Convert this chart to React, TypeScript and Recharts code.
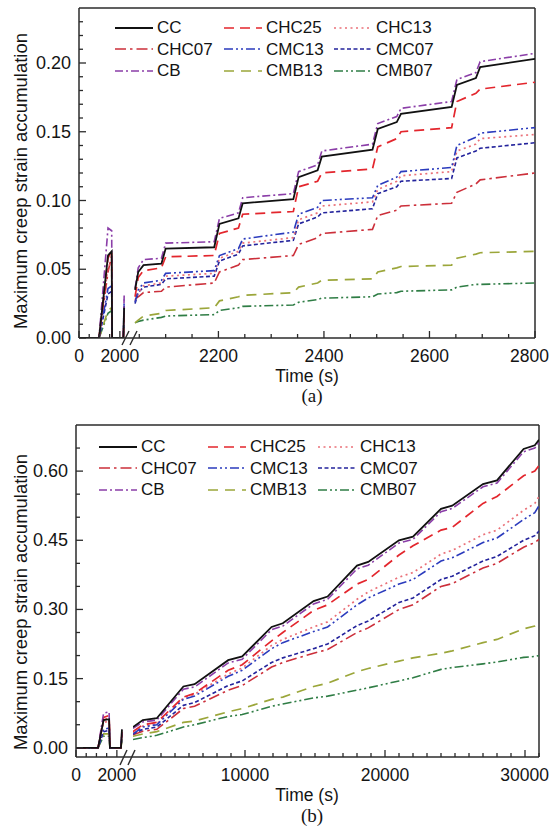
import React from 'react';
import { LineChart, Line, XAxis, YAxis, ReferenceLine, Legend, Label } from 'recharts';

const FONT = '"Liberation Sans", Arial, Helvetica, sans-serif';
const INK = '#141414';
const AXIS = '#2b2b2b';

// ---------- Panel (a) : left segment (0 - 2000 s) ----------
const A_TIME_L = [0, 980, 1420, 1600, 1620, 2170, 2210];
const A_CC_L = [0, 0, 0.06, 0.063, 0, 0, 0.022];
const A_CB_L = [0, 0, 0.08, 0.078, 0, 0, 0.031];
const A_CHC25_L = [0, 0, 0.058, 0.064, 0, 0, 0.018];
const A_CHC13_L = [0, 0, 0.052, 0.055, 0, 0, 0.02];
const A_CHC07_L = [0, 0, 0.048, 0.06, 0, 0, 0.02];
const A_CMC13_L = [0, 0, 0.036, 0.038, 0, 0, 0.028];
const A_CMC07_L = [0, 0, 0.032, 0.034, 0, 0, 0.025];
const A_CMB13_L = [0, 0, 0.02, 0.022, 0, 0, 0.008];
const A_CMB07_L = [0, 0, 0.018, 0.02, 0, 0, 0.008];

// ---------- Panel (a) : right segment ----------
const A_TIME_R = [2042, 2048, 2058, 2092, 2100, 2192, 2202, 2238, 2246, 2342, 2352, 2388, 2396, 2492, 2502, 2538, 2546, 2642, 2652, 2688, 2696, 2800];
const A_CC_R = [0.035, 0.048, 0.053, 0.054, 0.065, 0.066, 0.083, 0.087, 0.098, 0.101, 0.117, 0.122, 0.132, 0.137, 0.152, 0.157, 0.163, 0.168, 0.184, 0.189, 0.197, 0.203];
const A_CB_R = [0.036, 0.051, 0.057, 0.058, 0.069, 0.07, 0.087, 0.091, 0.102, 0.105, 0.121, 0.126, 0.136, 0.141, 0.156, 0.161, 0.167, 0.172, 0.188, 0.193, 0.201, 0.207];
const A_CHC25_R = [0.03, 0.044, 0.049, 0.051, 0.059, 0.06, 0.076, 0.08, 0.09, 0.092, 0.11, 0.114, 0.12, 0.123, 0.139, 0.145, 0.15, 0.153, 0.172, 0.178, 0.181, 0.186];
const A_CHC13_R = [0.027, 0.033, 0.038, 0.04, 0.045, 0.047, 0.058, 0.063, 0.069, 0.073, 0.086, 0.091, 0.096, 0.099, 0.108, 0.114, 0.118, 0.121, 0.136, 0.141, 0.145, 0.148];
const A_CHC07_R = [0.028, 0.03, 0.033, 0.034, 0.037, 0.04, 0.048, 0.053, 0.057, 0.06, 0.068, 0.073, 0.076, 0.079, 0.089, 0.093, 0.096, 0.098, 0.106, 0.112, 0.115, 0.12];
const A_CMC13_R = [0.026, 0.035, 0.04, 0.042, 0.047, 0.049, 0.06, 0.065, 0.072, 0.077, 0.09, 0.095, 0.1, 0.102, 0.111, 0.117, 0.121, 0.124, 0.14, 0.146, 0.149, 0.153];
const A_CMC07_R = [0.025, 0.033, 0.037, 0.039, 0.043, 0.045, 0.056, 0.061, 0.067, 0.071, 0.083, 0.088, 0.091, 0.094, 0.105, 0.11, 0.114, 0.116, 0.131, 0.136, 0.138, 0.142];
const A_CMB13_R = [0.011, 0.013, 0.016, 0.018, 0.02, 0.022, 0.027, 0.03, 0.031, 0.033, 0.037, 0.04, 0.042, 0.043, 0.048, 0.051, 0.052, 0.053, 0.058, 0.061, 0.062, 0.063];
const A_CMB07_R = [0.011, 0.012, 0.013, 0.015, 0.016, 0.017, 0.02, 0.022, 0.023, 0.024, 0.026, 0.028, 0.029, 0.03, 0.032, 0.033, 0.034, 0.035, 0.037, 0.039, 0.039, 0.04];

// ---------- Panel (b) : left segment ----------
const B_TIME_L = [0, 1080, 1350, 1620, 1660, 2200, 2250];
const B_CC_L = [0, 0, 0.06, 0.062, 0, 0, 0.04];
const B_CB_L = [0, 0, 0.075, 0.078, 0, 0, 0.04];
const B_CHC25_L = [0, 0, 0.066, 0.07, 0, 0, 0.035];
const B_CHC13_L = [0, 0, 0.055, 0.058, 0, 0, 0.032];
const B_CHC07_L = [0, 0, 0.06, 0.065, 0, 0, 0.03];
const B_CMC13_L = [0, 0, 0.04, 0.043, 0, 0, 0.03];
const B_CMC07_L = [0, 0, 0.035, 0.038, 0, 0, 0.03];
const B_CMB13_L = [0, 0, 0.03, 0.03, 0, 0, 0.02];
const B_CMB07_L = [0, 0, 0.025, 0.025, 0, 0, 0.02];

// ---------- Panel (b) : right segment ----------
const B_TIME_R = [2000, 2700, 3700, 5600, 6400, 8800, 9800, 11900, 12700, 14900, 15900, 18000, 18800, 21000, 22000, 24000, 24800, 27000, 28000, 29900, 30700, 31000];
const B_CC_R = [0.045, 0.06, 0.064, 0.133, 0.138, 0.19, 0.198, 0.262, 0.27, 0.318, 0.328, 0.395, 0.403, 0.45, 0.458, 0.518, 0.525, 0.572, 0.58, 0.648, 0.656, 0.668];
const B_CB_R = [0.042, 0.056, 0.06, 0.127, 0.132, 0.184, 0.192, 0.256, 0.264, 0.312, 0.322, 0.388, 0.396, 0.444, 0.452, 0.512, 0.519, 0.566, 0.574, 0.642, 0.65, 0.662];
const B_CHC25_R = [0.035, 0.05, 0.055, 0.11, 0.118, 0.168, 0.18, 0.232, 0.25, 0.298, 0.31, 0.355, 0.365, 0.418, 0.438, 0.472, 0.478, 0.53, 0.545, 0.59, 0.6, 0.612];
const B_CHC13_R = [0.032, 0.047, 0.052, 0.108, 0.116, 0.16, 0.173, 0.222, 0.235, 0.262, 0.273, 0.322, 0.338, 0.37, 0.38, 0.42, 0.428, 0.462, 0.472, 0.515, 0.53, 0.545];
const B_CHC07_R = [0.028, 0.036, 0.04, 0.085, 0.09, 0.125, 0.135, 0.175, 0.185, 0.205, 0.213, 0.25, 0.26, 0.3, 0.31, 0.35, 0.356, 0.39, 0.4, 0.435, 0.445, 0.452];
const B_CMC13_R = [0.03, 0.045, 0.05, 0.105, 0.112, 0.155, 0.168, 0.215, 0.228, 0.252, 0.262, 0.31, 0.325, 0.355, 0.365, 0.405, 0.412, 0.445, 0.455, 0.495, 0.51, 0.525];
const B_CMC07_R = [0.03, 0.04, 0.045, 0.092, 0.098, 0.135, 0.145, 0.185, 0.195, 0.215, 0.225, 0.265, 0.275, 0.315, 0.325, 0.365, 0.372, 0.405, 0.415, 0.45, 0.46, 0.47];
const B_CMB13_R = [0.025, 0.03, 0.035, 0.055, 0.058, 0.078, 0.085, 0.105, 0.11, 0.133, 0.14, 0.165, 0.172, 0.188, 0.195, 0.205, 0.21, 0.228, 0.235, 0.258, 0.264, 0.27];
const B_CMB07_R = [0.018, 0.022, 0.027, 0.045, 0.05, 0.068, 0.072, 0.09, 0.095, 0.108, 0.112, 0.125, 0.13, 0.145, 0.152, 0.17, 0.174, 0.182, 0.186, 0.196, 0.198, 0.2];

// ---------- Ticks ----------
const A_Y_MAJOR = [0, 0.05, 0.1, 0.15, 0.2];
const A_Y_STEP = 0.01;
const A_Y_COUNT = 24;
const B_Y_MAJOR = [0, 0.15, 0.3, 0.45, 0.6];
const B_Y_STEP = 0.05;
const B_Y_COUNT = 14;
const L_X_MAJOR = [0, 2000];
const L_X_MINOR_STEP = 500;
const A_X_MAJOR = [2200, 2400, 2600, 2800];
const A_X_MINOR_STEP = 50;
const B_X_MAJOR = [10000, 20000, 30000];
const B_X_MINOR_STEP = 1000;

const LEGEND_ORDER = ['CC', 'CHC25', 'CHC13', 'CHC07', 'CMC13', 'CMC07', 'CB', 'CMB13', 'CMB07'];
const DRAW_ORDER = ['CMB07', 'CMB13', 'CHC07', 'CMC07', 'CHC13', 'CMC13', 'CHC25', 'CB', 'CC'];

const STYLE: Record<string, { color: string; dash?: string; width: number }> = {
  CC: { color: '#111111', width: 1.8 },
  CHC25: { color: '#e3262d', dash: '10 6', width: 1.7 },
  CHC13: { color: '#ea7078', dash: '2 3.5', width: 1.7 },
  CHC07: { color: '#cc2f3a', dash: '11 4 2.5 4', width: 1.6 },
  CMC13: { color: '#2b3bbd', dash: '9 3 2 3 2 3', width: 1.6 },
  CMC07: { color: '#23239c', dash: '4 2.5', width: 1.6 },
  CB: { color: '#8b3ea8', dash: '8 3 2 3', width: 1.6 },
  CMB13: { color: '#9ba63a', dash: '10 7', width: 1.7 },
  CMB07: { color: '#2f7d45', dash: '9 3 2 3 2 3', width: 1.6 },
};

function buildRows(time: number[], cols: Record<string, number[]>) {
  return time.map((t, i) => {
    const r: Record<string, number> = { t };
    Object.keys(cols).forEach((k) => {
      r[k] = cols[k][i];
    });
    return r;
  });
}

const A_ROWS_L = buildRows(A_TIME_L, { CC: A_CC_L, CB: A_CB_L, CHC25: A_CHC25_L, CHC13: A_CHC13_L, CHC07: A_CHC07_L, CMC13: A_CMC13_L, CMC07: A_CMC07_L, CMB13: A_CMB13_L, CMB07: A_CMB07_L });
const A_ROWS_R = buildRows(A_TIME_R, { CC: A_CC_R, CB: A_CB_R, CHC25: A_CHC25_R, CHC13: A_CHC13_R, CHC07: A_CHC07_R, CMC13: A_CMC13_R, CMC07: A_CMC07_R, CMB13: A_CMB13_R, CMB07: A_CMB07_R });
const B_ROWS_L = buildRows(B_TIME_L, { CC: B_CC_L, CB: B_CB_L, CHC25: B_CHC25_L, CHC13: B_CHC13_L, CHC07: B_CHC07_L, CMC13: B_CMC13_L, CMC07: B_CMC07_L, CMB13: B_CMB13_L, CMB07: B_CMB07_L });
const B_ROWS_R = buildRows(B_TIME_R, { CC: B_CC_R, CB: B_CB_R, CHC25: B_CHC25_R, CHC13: B_CHC13_R, CHC07: B_CHC07_R, CMC13: B_CMC13_R, CMC07: B_CMC07_R, CMB13: B_CMB13_R, CMB07: B_CMB07_R });

function rangeTicks(from: number, to: number, step: number) {
  const out: number[] = [];
  const n = Math.round((to - from) / step);
  for (let i = 0; i <= n; i++) out.push(+(from + i * step).toFixed(6));
  return out;
}

const isIn = (arr: number[], v: number) => arr.some((m) => Math.abs(m - v) < 1e-6);

// pageRight: page x of this chart's left edge, used to keep labels inside the page
function makeXTick(majors: number[], chartLeft: number) {
  const FS = 17.5;
  return (props: any) => {
    const { x, y, payload } = props;
    const v = payload.value;
    const major = isIn(majors, v);
    const label = String(v);
    const half = (label.length * 0.556 * FS) / 2;
    const maxX = 549 - chartLeft - half;
    const tx = Math.min(x, maxX);
    return (
      <g>
        <line x1={x} x2={x} y1={y} y2={y - (major ? 7 : 4)} stroke={AXIS} strokeWidth={1.3} />
        {major && (
          <text x={tx} y={y + 18} textAnchor="middle" dominantBaseline="central" fontSize={FS} fontFamily={FONT} fill={INK}>
            {label}
          </text>
        )}
      </g>
    );
  };
}

function makeYTick(majors: number[]) {
  return (props: any) => {
    const { x, y, payload } = props;
    const v = payload.value;
    const major = isIn(majors, v);
    return (
      <g>
        <line x1={x} x2={x + (major ? 7 : 4)} y1={y} y2={y} stroke={AXIS} strokeWidth={1.3} />
        {major && (
          <text x={x - 8} y={y} textAnchor="end" dominantBaseline="central" fontSize={18} fontFamily={FONT} fill={INK}>
            {v.toFixed(2)}
          </text>
        )}
      </g>
    );
  };
}

function LegendGrid() {
  return (
    <div style={{ display: 'grid', gridTemplateColumns: '109px 110px 112px' }}>
      {LEGEND_ORDER.map((k) => {
        const s = STYLE[k];
        return (
          <div key={k} style={{ display: 'flex', alignItems: 'center', height: 21.5, whiteSpace: 'nowrap' }}>
            <svg width={38} height={8} style={{ flex: 'none' }}>
              <line x1={0} x2={38} y1={4} y2={4} stroke={s.color} strokeWidth={s.width} strokeDasharray={s.dash} />
            </svg>
            <span style={{ marginLeft: 4, fontFamily: FONT, fontSize: 17, color: INK, lineHeight: '21.5px' }}>{k}</span>
          </div>
        );
      })}
    </div>
  );
}

function seriesLines() {
  return DRAW_ORDER.map((k) => (
    <Line
      key={k}
      type="linear"
      dataKey={k}
      stroke={STYLE[k].color}
      strokeWidth={STYLE[k].width}
      strokeDasharray={STYLE[k].dash}
      dot={false}
      activeDot={false}
      isAnimationActive={false}
    />
  ));
}

type PanelCfg = {
  top: number;
  height: number;
  axisX: number;
  splitX: number;
  rightX: number;
  gapPad: number;
  yDomain: [number, number];
  yTicks: number[];
  yMajors: number[];
  leftRows: any[];
  rightRows: any[];
  leftDomain: [number, number];
  rightDomain: [number, number];
  leftTicks: number[];
  rightTicks: number[];
  rightMajors: number[];
  legendLeft: number;
  legendTop: number;
  titleY: number;
  timeY: number;
  tagY: number;
  tag: string;
};

const EXTRA = 26; // extra room under the axis for the caption

function Panel(p: PanelCfg) {
  const leftW = p.splitX + 18;
  const rightW = 551 - p.splitX;
  const axisLine = { stroke: AXIS, strokeWidth: 1.5 };
  const H = p.height + EXTRA;
  const XH = 62 + EXTRA;
  return (
    <>
      <div style={{ position: 'absolute', left: 0, top: p.top }}>
        <LineChart width={leftW} height={H} data={p.leftRows} margin={{ top: 8, right: leftW - p.splitX, bottom: 0, left: 0 }}>
          <XAxis
            type="number"
            dataKey="t"
            domain={p.leftDomain}
            allowDataOverflow
            ticks={p.leftTicks}
            interval={0}
            tickLine={false}
            tickSize={0}
            tickMargin={0}
            tick={makeXTick(L_X_MAJOR, 0)}
            height={XH}
            padding={{ left: 0, right: p.gapPad }}
            axisLine={axisLine}
          />
          <YAxis
            type="number"
            domain={p.yDomain}
            allowDataOverflow
            ticks={p.yTicks}
            interval={0}
            width={p.axisX}
            tickLine={false}
            tickSize={0}
            tickMargin={0}
            tick={makeYTick(p.yMajors)}
            axisLine={axisLine}
          >
            <Label
              content={() => (
                <text
                  x={20}
                  y={p.titleY}
                  transform={`rotate(-90, 20, ${p.titleY})`}
                  textAnchor="middle"
                  dominantBaseline="central"
                  fontSize={18.5}
                  fontFamily={FONT}
                  fill={INK}
                >
                  Maximum creep strain accumulation
                </text>
              )}
            />
          </YAxis>
          <ReferenceLine y={p.yDomain[1]} stroke={AXIS} strokeWidth={1.5} />
          {seriesLines()}
        </LineChart>
      </div>
      <div style={{ position: 'absolute', left: p.splitX, top: p.top }}>
        <LineChart width={rightW} height={H} data={p.rightRows} margin={{ top: 8, right: rightW - (p.rightX - p.splitX), bottom: 0, left: 0 }}>
          <XAxis
            type="number"
            dataKey="t"
            domain={p.rightDomain}
            allowDataOverflow
            ticks={p.rightTicks}
            interval={0}
            tickLine={false}
            tickSize={0}
            tickMargin={0}
            tick={makeXTick(p.rightMajors, p.splitX)}
            height={XH}
            axisLine={axisLine}
          >
            <Label
              content={() => (
                <g>
                  <text x={307 - p.splitX} y={p.timeY} textAnchor="middle" dominantBaseline="central" fontSize={17.5} fontFamily={FONT} fill={INK}>
                    Time (s)
                  </text>
                  <text x={312 - p.splitX} y={p.tagY} textAnchor="middle" dominantBaseline="central" fontSize={19} fontFamily={'"Liberation Serif", "Times New Roman", serif'} fill={INK}>
                    {p.tag}
                  </text>
                </g>
              )}
            />
          </XAxis>
          <YAxis hide type="number" domain={p.yDomain} allowDataOverflow />
          <ReferenceLine y={p.yDomain[1]} stroke={AXIS} strokeWidth={1.5} />
          <ReferenceLine x={p.rightDomain[1]} stroke={AXIS} strokeWidth={1.5} />
          <Legend
            layout="vertical"
            align="center"
            verticalAlign="middle"
            content={() => <LegendGrid />}
            wrapperStyle={{ left: p.legendLeft - p.splitX, top: p.legendTop, width: 345 }}
          />
          {seriesLines()}
        </LineChart>
      </div>
    </>
  );
}

const A_Y_TICKS = rangeTicks(0, (A_Y_COUNT - 1) * A_Y_STEP, A_Y_STEP);
const B_Y_TICKS = rangeTicks(0, (B_Y_COUNT - 1) * B_Y_STEP, B_Y_STEP);
const L_X_TICKS = rangeTicks(0, 2000, L_X_MINOR_STEP);
const A_X_TICKS = rangeTicks(2050, 2800, A_X_MINOR_STEP);
const B_X_TICKS = rangeTicks(3000, 31000, B_X_MINOR_STEP);

export default function App() {
  return (
    <div style={{ position: 'absolute', left: 0, top: 0, width: 551, height: 833, background: '#ffffff', overflow: 'hidden' }}>
      <Panel
        top={0}
        height={400}
        axisX={79}
        splitX={134}
        rightX={535}
        gapPad={8}
        yDomain={[0, 0.24]}
        yTicks={A_Y_TICKS}
        yMajors={A_Y_MAJOR}
        leftRows={A_ROWS_L}
        rightRows={A_ROWS_R}
        leftDomain={[0, 2300]}
        rightDomain={[2040, 2800]}
        leftTicks={L_X_TICKS}
        rightTicks={A_X_TICKS}
        rightMajors={A_X_MAJOR}
        legendLeft={115}
        legendTop={17}
        titleY={181}
        timeY={376}
        tagY={395}
        tag="(a)"
      />
      <Panel
        top={417}
        height={402}
        axisX={76}
        splitX={133}
        rightX={539}
        gapPad={10}
        yDomain={[-0.02, 0.7]}
        yTicks={B_Y_TICKS}
        yMajors={B_Y_MAJOR}
        leftRows={B_ROWS_L}
        rightRows={B_ROWS_R}
        leftDomain={[0, 2300]}
        rightDomain={[2000, 31000]}
        leftTicks={L_X_TICKS}
        rightTicks={B_X_TICKS}
        rightMajors={B_X_MAJOR}
        legendLeft={99}
        legendTop={19}
        titleY={185}
        timeY={378}
        tagY={398}
        tag="(b)"
      />
      <svg width={551} height={833} style={{ position: 'absolute', left: 0, top: 0, pointerEvents: 'none' }}>
        <g stroke={AXIS} strokeWidth={1.4}>
          <line x1={122} y1={345} x2={129} y2={331} />
          <line x1={130} y1={345} x2={137} y2={331} />
          <line x1={120} y1={765} x2={127} y2={750} />
          <line x1={128} y1={765} x2={135} y2={750} />
        </g>
      </svg>
    </div>
  );
}
